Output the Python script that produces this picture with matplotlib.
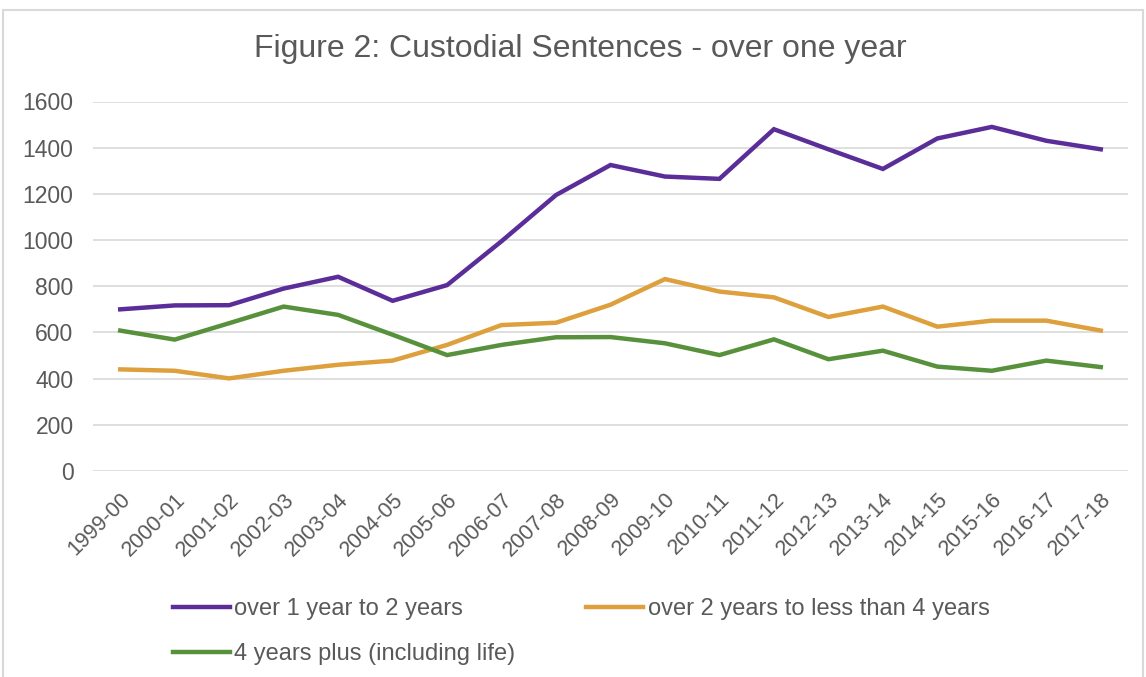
import matplotlib.pyplot as plt
from matplotlib.patches import Rectangle
from matplotlib.transforms import ScaledTranslation

# ----------------------------------
# DATA
# ----------------------------------
years = ["1999-00", "2000-01", "2001-02", "2002-03", "2003-04", "2004-05",
         "2005-06", "2006-07", "2007-08", "2008-09", "2009-10", "2010-11",
         "2011-12", "2012-13", "2013-14", "2014-15", "2015-16", "2016-17",
         "2017-18"]

one_to_two = [700, 717, 718, 790, 841, 737, 805, 995, 1195, 1325,
              1275, 1265, 1480, 1393, 1308, 1440, 1490, 1430, 1393]
two_to_four = [440, 434, 401, 434, 460, 478, 546, 632, 642, 720,
               831, 777, 752, 667, 712, 625, 651, 651, 608]
four_plus = [608, 569, 640, 712, 676, 590, 502, 546, 579, 580,
             553, 502, 570, 484, 521, 452, 434, 478, 450]

labels = ["over 1 year to 2 years",
          "over 2 years to less than 4 years",
          "4 years plus (including life)"]

PURPLE = "#5a2d98"
ORANGE = "#dda03c"
GREEN = "#57913b"
TEXT = "#595959"
GRID = "#d9d9d9"

plt.rcParams["font.family"] = ["Liberation Sans", "DejaVu Sans"]

# ----------------------------------
# FIGURE
# ----------------------------------
fig = plt.figure(figsize=(11.46, 6.77), dpi=100)
ax = fig.add_axes([93 / 1146, 1 - 471 / 677, 1035 / 1146, 369.5 / 677])

x = list(range(len(years)))
l1, = ax.plot(x, one_to_two, color=PURPLE, lw=3.2, solid_joinstyle="miter")
l2, = ax.plot(x, two_to_four, color=ORANGE, lw=3.2, solid_joinstyle="miter")
l3, = ax.plot(x, four_plus, color=GREEN, lw=3.2, solid_joinstyle="miter")

ax.set_xlim(-0.5, len(years) - 0.5)
ax.set_ylim(0, 1600)
ax.set_yticks(range(0, 1601, 200))
ax.set_xticks(x)
ax.set_xticklabels(years, rotation=45, ha="right", va="top",
                   rotation_mode="anchor", fontsize=15.5)

# nudge rotated labels a little left, like the Excel layout
shift = ScaledTranslation(-6 / 100, 0, fig.dpi_scale_trans)
for lab in ax.get_xticklabels():
    lab.set_transform(lab.get_transform() + shift)

ax.grid(True, axis="y", color=GRID, lw=1.2)
ax.set_axisbelow(True)
for s in ax.spines.values():
    s.set_visible(False)
ax.tick_params(axis="both", length=0, colors=TEXT)
ax.tick_params(axis="y", pad=14, labelsize=16.5)
ax.tick_params(axis="x", pad=13)

fig.text(0.506, 1 - 49 / 677, "Figure 2: Custodial Sentences - over one year",
         ha="center", va="center", fontsize=23, color=TEXT)

# legend: column order so purple & green share column 1
fig.legend([l1, l3, l2], [labels[0], labels[2], labels[1]],
           ncol=2, loc="upper left", bbox_to_anchor=(173 / 1146, 1 - 598 / 677),
           frameon=False, fontsize=17, handlelength=2.4, handletextpad=0.2,
           columnspacing=3.0, labelspacing=0.98, borderpad=0,
           borderaxespad=0, labelcolor=TEXT)

# chart border
fig.patches.append(Rectangle((3 / 1146, -0.01), 1140 / 1146, 1 - 10 / 677 + 0.01,
                             transform=fig.transFigure, fill=False,
                             edgecolor=GRID, lw=1.5))

plt.savefig("out.png", dpi=100)
